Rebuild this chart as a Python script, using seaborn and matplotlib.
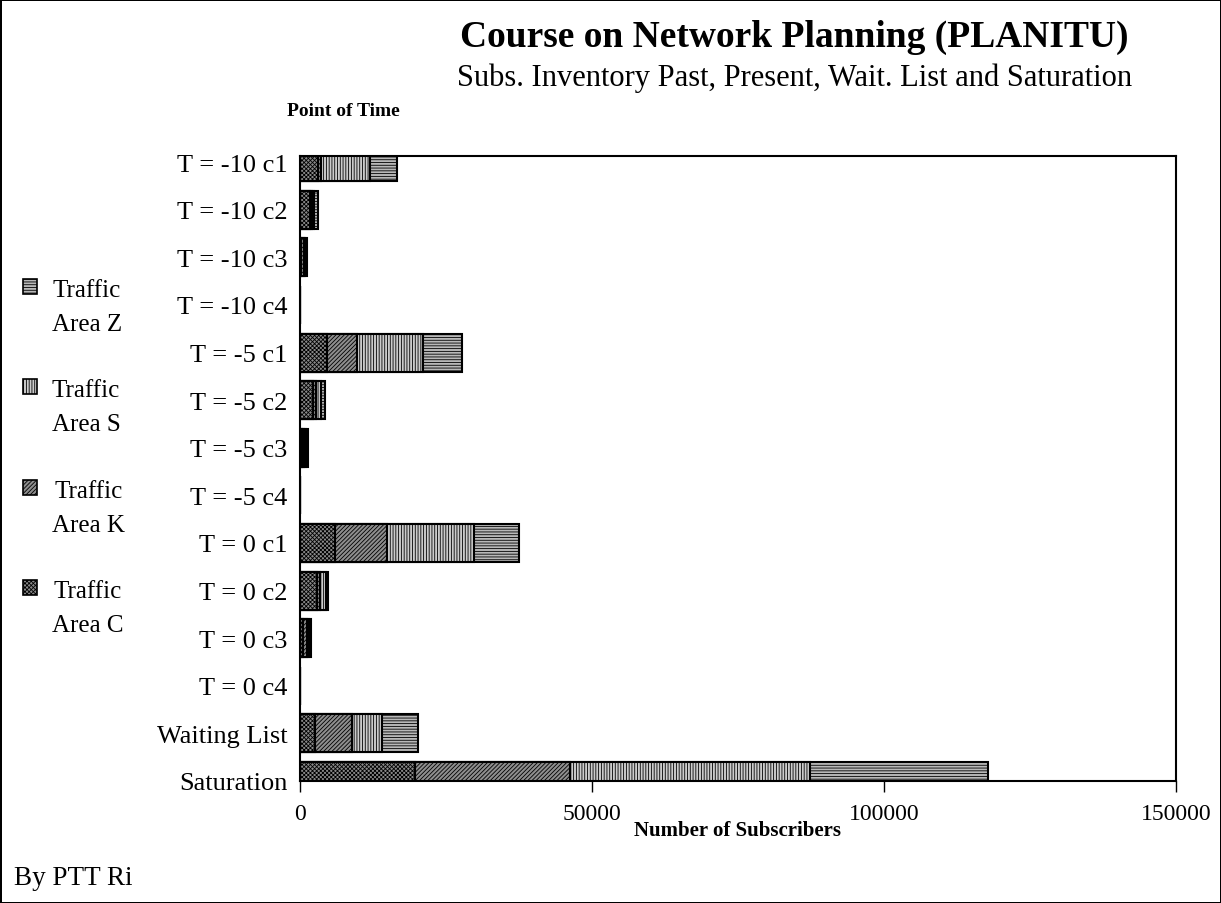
"""Gestapelte Balken: Teilnehmerbestand je Verkehrsgebiet (PLANITU-Kurs)."""

import matplotlib
matplotlib.use('Agg')
import matplotlib.pyplot as plt
from matplotlib.patches import Patch
import numpy as np
import seaborn as sns


# Kategorien (Zeitpunkte)
periods = [
    'T = -10 c1', 'T = -10 c2', 'T = -10 c3', 'T = -10 c4',
    'T = -5 c1', 'T = -5 c2', 'T = -5 c3', 'T = -5 c4',
    'T = 0 c1', 'T = 0 c2', 'T = 0 c3', 'T = 0 c4',
    'Waiting List', 'Saturation',
]

# Teilnehmer je Verkehrsgebiet
area_c = [3000, 1700, 200, 0, 4600, 2200, 350, 0, 6000, 2850, 500, 0, 2600, 19700]
area_k = [550, 300, 400, 0, 5100, 600, 400, 0, 8900, 500, 700, 0, 6300, 26500]
area_s = [8400, 450, 300, 0, 11300, 850, 300, 0, 14900, 1100, 300, 0, 5100, 41100]
area_z = [4600, 570, 300, 0, 6700, 570, 250, 0, 7700, 400, 300, 0, 6200, 30500]

x_ticks = [0, 50000, 100000, 150000]

FONT = ['Liberation Serif', 'DejaVu Serif']

sns.set_style('white')
plt.rcParams['font.family'] = FONT
plt.rcParams['text.color'] = 'black'
plt.rcParams['axes.labelcolor'] = 'black'
plt.rcParams['xtick.color'] = 'black'
plt.rcParams['ytick.color'] = 'black'
plt.rcParams['hatch.linewidth'] = 0.6
plt.rcParams['hatch.color'] = '#303030'

fig = plt.figure(figsize=(12.21, 9.04), dpi=100)
fig.patch.set_edgecolor('black')
fig.patch.set_linewidth(2)
ax = fig.add_axes([300 / 1221, 1 - 782 / 904, 876 / 1221, 625 / 904])

# Stapel von hinten nach vorne zeichnen (kumulierte Summen)
styles = [
    ('Traffic\nArea Z', area_z, '#b8b8b8', '------'),
    ('Traffic\nArea S', area_s, '#cccccc', '||||||'),
    ('Traffic\nArea K', area_k, '#8e8e8e', '////////'),
    ('Traffic\nArea C', area_c, '#8a8a8a', 'xxxxxxxx'),
]
stack = np.array(area_c) + np.array(area_k) + np.array(area_s) + np.array(area_z)
handles = []
for label, values, face, hatch in styles:
    sns.barplot(x=stack, y=periods, orient='h', ax=ax, color=face, saturation=1,
                width=0.8, edgecolor='black', linewidth=1.5, hatch=hatch)
    handles.append(Patch(facecolor=face, edgecolor='black', hatch=hatch, linewidth=1.2, label=label))
    stack = stack - np.array(values)

ax.set_xlim(0, 150000)
ax.set_ylim(13.0, -0.13)
ax.set_xticks(x_ticks)
ax.set_xticklabels([str(t) for t in x_ticks])
ax.set_ylabel('')
ax.set_xlabel('Number of Subscribers', fontsize=15, fontweight='bold', labelpad=-3)
ax.tick_params(axis='x', direction='out', length=8, width=1, bottom=True, labelsize=17, pad=8)
ax.tick_params(axis='y', length=0, labelsize=19, pad=9)
for side in ax.spines.values():
    side.set_visible(True)
    side.set_color('black')
    side.set_linewidth(1.5)

fig.text(794 / 1221, 1 - 37 / 904, 'Course on Network Planning (PLANITU)',
         ha='center', va='center', fontsize=27, fontweight='bold')
fig.text(795 / 1221, 1 - 78 / 904, 'Subs. Inventory Past, Present, Wait. List and Saturation',
         ha='center', va='center', fontsize=22)
fig.text(343 / 1221, 1 - 112 / 904, 'Point of Time',
         ha='center', va='center', fontsize=14, fontweight='bold')
fig.text(14 / 1221, 1 - 879 / 904, 'By PTT Ri', ha='left', va='center', fontsize=19.5)

leg = fig.legend(handles=handles, loc='upper left', bbox_to_anchor=(23 / 1221, 1 - 280 / 904),
                 frameon=False, fontsize=18, handlelength=0.55, handleheight=0.55,
                 handletextpad=0.6, labelspacing=1.78, borderpad=0, borderaxespad=0)
for t in leg.get_texts():
    t.set_multialignment('center')
    t.set_linespacing(1.7)
# Legendensymbol an der ersten Textzeile ausrichten
for column in leg._legend_handle_box.get_children():
    for item in column.get_children():
        item.align = 'top'

fig.savefig('out.png', dpi=100)
plt.close(fig)
